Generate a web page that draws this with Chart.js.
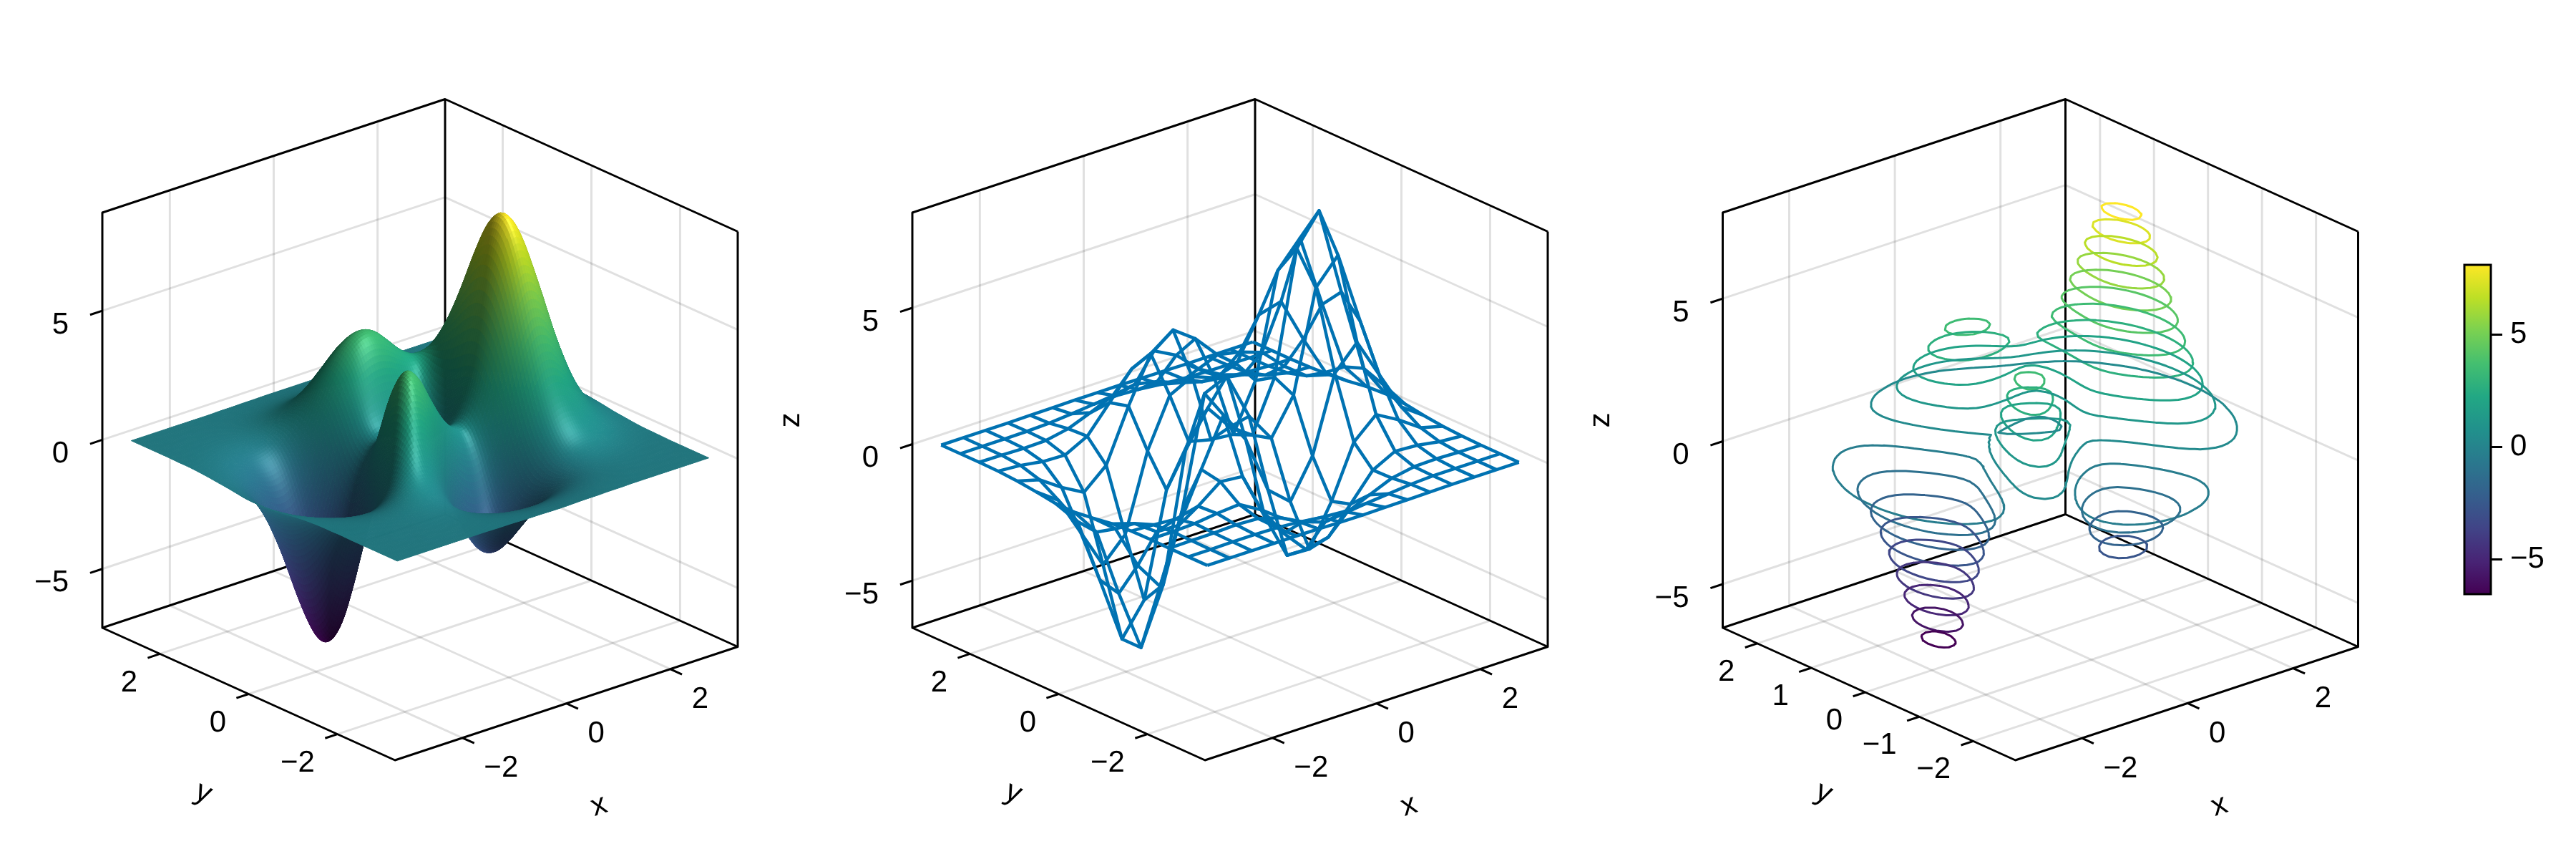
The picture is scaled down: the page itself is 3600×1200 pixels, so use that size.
<!DOCTYPE html>
<html>
<head>
<meta charset="utf-8">
<style>
  html, body { margin: 0; background: #fff; }
  #main { position: absolute; left: 0; top: 0; }
  #cbar { position: absolute; left: 3380px; top: 340px; }
</style>
<script src="https://cdn.jsdelivr.net/npm/chart.js@4/dist/chart.umd.min.js"></script>
</head>
<body>
<canvas id="main" width="3600" height="1200"></canvas>
<canvas id="cbar" width="220" height="520"></canvas>
<script>
// grid coordinates shared by x and y
const gridCoords = [-3, -2.786, -2.571, -2.357, -2.143, -1.929, -1.714, -1.5, -1.286, -1.071, -0.857, -0.643, -0.429, -0.214, 0,
  0.214, 0.429, 0.643, 0.857, 1.071, 1.286, 1.5, 1.714, 1.929, 2.143, 2.357, 2.571, 2.786, 3];

// z values, rows follow y, columns follow x
const zGrid = [
  [0,0,0,0,0,0,0,0,0,-.01,-.01,-.02,-.03,-.03,-.04,-.04,-.03,-.02,-.02,-.01,-.01,0,0,0,0,0,0,0,0],
  [0,0,0,0,0,0,0,0,-.01,-.02,-.03,-.05,-.07,-.09,-.10,-.10,-.08,-.07,-.05,-.03,-.02,-.01,0,0,0,0,0,0,0],
  [0,0,0,0,.01,.01,.01,0,-.01,-.03,-.07,-.12,-.17,-.21,-.23,-.23,-.20,-.16,-.12,-.07,-.04,-.02,0,0,0,0,0,0,0],
  [0,0,0,.01,.01,.02,.02,.01,-.01,-.06,-.14,-.25,-.36,-.45,-.49,-.49,-.43,-.35,-.25,-.15,-.08,-.03,0,.01,.01,.01,.01,0,0],
  [0,0,.01,.02,.02,.04,.05,.04,.01,-.08,-.23,-.43,-.65,-.83,-.93,-.93,-.83,-.66,-.47,-.28,-.13,-.03,.02,.04,.04,.02,.01,.01,0],
  [0,.01,.01,.02,.04,.06,.09,.10,.07,-.05,-.30,-.65,-1.04,-1.37,-1.56,-1.57,-1.41,-1.12,-.79,-.45,-.18,.01,.10,.11,.09,.06,.03,.02,.01],
  [.01,.01,.02,.03,.05,.09,.15,.21,.21,.08,-.26,-.78,-1.39,-1.93,-2.25,-2.29,-2.07,-1.66,-1.13,-.60,-.15,.14,.27,.28,.22,.14,.08,.04,.02],
  [0,0,0,0,.02,.07,.18,.33,.44,.38,.02,-.65,-1.50,-2.28,-2.77,-2.89,-2.64,-2.11,-1.38,-.61,.05,.48,.64,.60,.45,.28,.15,.08,.03],
  [0,-.02,-.04,-.08,-.10,-.07,.10,.39,.73,.89,.65,-.07,-1.09,-2.09,-2.78,-3.02,-2.82,-2.23,-1.34,-.33,.56,1.13,1.30,1.15,.84,.52,.28,.14,.06],
  [-.02,-.06,-.14,-.26,-.38,-.42,-.22,.27,.95,1.51,1.59,1.02,-.05,-1.19,-2.05,-2.46,-2.39,-1.84,-.87,.35,1.48,2.17,2.30,1.97,1.42,.88,.47,.23,.10],
  [-.05,-.14,-.31,-.57,-.88,-1.07,-.91,-.24,.86,1.99,2.59,2.35,1.42,.26,-.70,-1.27,-1.40,-.99,.01,1.42,2.77,3.58,3.63,3.05,2.17,1.34,.72,.34,.14],
  [-.10,-.26,-.54,-1.01,-1.59,-2.05,-2.03,-1.25,.25,1.98,3.20,3.44,2.79,1.74,.77,.08,-.22,.05,1.06,2.66,4.25,5.18,5.12,4.26,3.02,1.85,1.00,.48,.20],
  [-.16,-.39,-.82,-1.53,-2.43,-3.25,-3.47,-2.71,-.94,1.28,3.06,3.76,3.43,2.57,1.69,1.00,.61,.83,1.92,3.74,5.59,6.65,6.51,5.39,3.81,2.34,1.25,.60,.25],
  [-.21,-.51,-1.08,-2.01,-3.23,-4.40,-4.94,-4.34,-2.51,-.03,2.08,3.12,3.05,2.41,1.69,1.10,.78,1.07,2.32,4.38,6.48,7.67,7.49,6.19,4.37,2.68,1.44,.69,.29],
  [-.25,-.60,-1.25,-2.33,-3.77,-5.22,-6.03,-5.68,-3.99,-1.53,.66,1.83,1.94,1.50,.98,.57,.41,.85,2.26,4.48,6.72,8.00,7.83,6.48,4.58,2.81,1.51,.72,.30],
  [-.25,-.62,-1.29,-2.41,-3.90,-5.45,-6.44,-6.31,-4.87,-2.64,-.58,.60,.84,.58,.26,.04,.02,.55,1.99,4.18,6.36,7.61,7.46,6.18,4.37,2.68,1.44,.69,.29],
  [-.24,-.57,-1.18,-2.21,-3.59,-5.05,-6.03,-6.04,-4.87,-2.95,-1.10,.05,.40,.34,.20,.09,.12,.59,1.83,3.71,5.59,6.65,6.51,5.39,3.81,2.34,1.25,.60,.25],
  [-.19,-.47,-.97,-1.82,-2.95,-4.16,-4.98,-5.00,-4.05,-2.43,-.80,.33,.84,.98,.98,.91,.85,1.08,1.90,3.25,4.62,5.39,5.23,4.31,3.04,1.86,1.00,.48,.20],
  [-.14,-.34,-.72,-1.34,-2.17,-3.04,-3.62,-3.59,-2.78,-1.43,.01,1.12,1.78,2.10,2.20,2.10,1.88,1.80,2.12,2.84,3.65,4.07,3.87,3.16,2.22,1.36,.73,.35,.14],
  [-.10,-.23,-.47,-.88,-1.42,-1.98,-2.31,-2.20,-1.52,-.40,.84,1.90,2.64,3.07,3.22,3.07,2.71,2.36,2.25,2.44,2.75,2.88,2.66,2.13,1.49,.90,.48,.23,.10],
  [-.06,-.13,-.28,-.52,-.83,-1.13,-1.28,-1.12,-.56,.32,1.34,2.27,2.99,3.44,3.59,3.43,3.00,2.51,2.14,1.99,1.97,1.91,1.69,1.33,.91,.55,.29,.14,.06],
  [-.03,-.07,-.15,-.27,-.43,-.57,-.61,-.44,-.02,.63,1.40,2.14,2.74,3.14,3.27,3.11,2.72,2.23,1.79,1.50,1.33,1.19,1.00,.76,.52,.31,.16,.08,.03],
  [-.01,-.03,-.07,-.13,-.20,-.25,-.23,-.10,.19,.63,1.15,1.67,2.12,2.41,2.51,2.39,2.08,1.68,1.31,1.03,.83,.69,.55,.40,.27,.16,.08,.04,.02],
  [-.01,-.01,-.03,-.05,-.08,-.09,-.07,.03,.21,.48,.80,1.13,1.42,1.61,1.67,1.59,1.38,1.11,.85,.63,.48,.37,.28,.20,.13,.08,.04,.02,.01],
  [0,-.01,-.01,-.02,-.03,-.03,-.01,.05,.15,.30,.47,.66,.82,.93,.97,.92,.80,.64,.48,.35,.25,.18,.13,.09,.06,.03,.02,.01,0],
  [0,0,0,-.01,-.01,-.01,.01,.04,.09,.16,.25,.34,.42,.48,.50,.47,.41,.33,.24,.17,.12,.08,.06,.04,.02,.01,.01,0,0],
  [0,0,0,0,0,0,.01,.02,.04,.07,.11,.15,.19,.22,.23,.21,.19,.15,.11,.08,.05,.03,.02,.01,.01,0,0,0,0],
  [0,0,0,0,0,0,0,.01,.02,.03,.05,.06,.08,.09,.09,.09,.08,.06,.04,.03,.02,.01,.01,0,0,0,0,0,0],
  [0,0,0,0,0,0,0,0,.01,.01,.02,.02,.03,.03,.03,.03,.03,.02,.02,.01,.01,0,0,0,0,0,0,0,0]
];

const contourLevels = [-5.87, -5.17, -4.48, -3.78, -3.09, -2.39, -1.70, -1.00, -0.30, 0.39, 1.09, 1.78, 2.48, 3.17, 3.87, 4.57, 5.26, 5.96, 6.65, 7.35];
const colorRange = [-6.55, 8.1];

const xTicks = [-2, 0, 2];
const yTicksWide = [-2, 0, 2];
const yTicksNarrow = [-2, -1, 0, 1, 2];
const zTicks = [-5, 0, 5];
const colorbarTicks = [-5, 0, 5];

const viridis = ['#440154', '#482475', '#414487', '#355f8d', '#2a788e', '#21918c', '#22a884', '#44bf70', '#7ad151', '#bddf26', '#fde725'];

const panels = [
  { left: 143, xLim: [-3.3, 3.3], yLim: [-3.3, 3.3], zLim: [-7.28, 8.80], yTicks: yTicksWide, zLabel: false },
  { left: 1275, xLim: [-3.3, 3.3], yLim: [-3.3, 3.3], zLim: [-6.73, 8.49], yTicks: yTicksWide, zLabel: true },
  { left: 2407.5, xLim: [-3.26, 3.23], yLim: [-2.78, 2.64], zLim: [-6.53, 8.01], yTicks: yTicksNarrow, zLabel: true }
];

const FONT = '42px "Liberation Sans"';
const INK = '#000';
const GRID = 'rgba(0,0,0,0.12)';
const WIRE = '#0072B2';

// box edges on screen, from the front bottom corner
const AX = { x: 479, y: -158.5 };
const AY = { x: -409, y: -185 };
const AZ = -580;
const FRONT_X = 409;
const FRONT_Y = 1062;

function project(p, x, y, z) {
  const bx = (x - p.xLim[0]) / (p.xLim[1] - p.xLim[0]);
  const by = (y - p.yLim[0]) / (p.yLim[1] - p.yLim[0]);
  const bz = (z - p.zLim[0]) / (p.zLim[1] - p.zLim[0]);
  return {
    x: p.left + FRONT_X + bx * AX.x + by * AY.x,
    y: FRONT_Y + bx * AX.y + by * AY.y + bz * AZ
  };
}

function hexRgb(h) {
  return [parseInt(h.slice(1, 3), 16), parseInt(h.slice(3, 5), 16), parseInt(h.slice(5, 7), 16)];
}
const viridisRgb = viridis.map(hexRgb);
function viridisAt(t) {
  t = Math.min(1, Math.max(0, t)) * (viridisRgb.length - 1);
  const i = Math.min(viridisRgb.length - 2, Math.floor(t));
  const f = t - i;
  return viridisRgb[i].map((c, k) => c + (viridisRgb[i + 1][k] - c) * f);
}

// catmull-rom refine of the table for drawing, same idea as tension on a line
function cr(a, b, c, d, t) {
  return 0.5 * (2 * b + (c - a) * t + (2 * a - 5 * b + 4 * c - d) * t * t + (3 * b - a - 3 * c + d) * t * t * t);
}
function refine1(arr, sub) {
  const out = [];
  const n = arr.length;
  for (let i = 0; i < n - 1; i++) {
    const a = arr[Math.max(0, i - 1)], b = arr[i], c = arr[i + 1], d = arr[Math.min(n - 1, i + 2)];
    for (let s = 0; s < sub; s++) out.push(cr(a, b, c, d, s / sub));
  }
  out.push(arr[n - 1]);
  return out;
}
function refineTable(table, sub) {
  const rows = table.map(r => refine1(r, sub));
  const cols = rows[0].map((_, j) => refine1(rows.map(r => r[j]), sub));
  return cols[0].map((_, i) => cols.map(c => c[i]));
}
function refineCoords(sub) {
  return refine1(gridCoords, sub);
}

function line(points, color, width, order, cap) {
  return {
    data: points,
    showLine: true,
    pointRadius: 0,
    borderColor: color,
    borderWidth: width,
    borderCapStyle: cap || 'butt',
    borderJoinStyle: 'round',
    tension: 0,
    spanGaps: false,
    order: order,
    clip: false
  };
}

function axisDatasets(p) {
  const out = [];
  const [x0, x1] = p.xLim, [y0, y1] = p.yLim, [z0, z1] = p.zLim;
  const P = (x, y, z) => project(p, x, y, z);
  xTicks.forEach(t => {
    out.push(line([P(t, y0, z0), P(t, y1, z0), P(t, y1, z1)], GRID, 3, 3));
  });
  p.yTicks.forEach(t => {
    out.push(line([P(x0, t, z0), P(x1, t, z0), P(x1, t, z1)], GRID, 3, 3));
  });
  zTicks.forEach(t => {
    out.push(line([P(x0, y1, t), P(x1, y1, t), P(x1, y0, t)], GRID, 3, 3));
  });
  out.push(line([P(x0, y1, z1), P(x0, y1, z0), P(x0, y0, z0), P(x1, y0, z0), P(x1, y0, z1)], INK, 3, 2));
  out.push(line([P(x0, y1, z1), P(x1, y1, z1), P(x1, y0, z1)], INK, 3, 2));
  out.push(line([P(x0, y1, z0), P(x1, y1, z0), P(x1, y0, z0)], INK, 3, 2));
  out.push(line([P(x1, y1, z0), P(x1, y1, z1)], INK, 3, 2));
  // tick marks
  const lenX = Math.hypot(AX.x, AX.y), lenY = Math.hypot(AY.x, AY.y);
  const outX = { x: -AX.x / lenX * 18, y: -AX.y / lenX * 18 };
  const outY = { x: -AY.x / lenY * 18, y: -AY.y / lenY * 18 };
  xTicks.forEach(t => {
    const b = P(t, y0, z0);
    out.push(line([b, { x: b.x + outY.x, y: b.y + outY.y }], INK, 3, 2));
  });
  p.yTicks.forEach(t => {
    const b = P(x0, t, z0);
    out.push(line([b, { x: b.x + outX.x, y: b.y + outX.y }], INK, 3, 2));
  });
  zTicks.forEach(t => {
    const b = P(x0, y1, t);
    out.push(line([b, { x: b.x + outX.x, y: b.y + outX.y }], INK, 3, 2));
  });
  return out;
}

function wireDatasets(p) {
  const out = [];
  for (let i = 0; i < zGrid.length; i += 2) {
    const row = [], col = [];
    for (let j = 0; j < zGrid.length; j += 2) {
      row.push(project(p, gridCoords[j], gridCoords[i], zGrid[i][j]));
      col.push(project(p, gridCoords[i], gridCoords[j], zGrid[j][i]));
    }
    out.push(line(row, WIRE, 4.5, 1));
    out.push(line(col, WIRE, 4.5, 1));
  }
  return out;
}

function contourDatasets(p) {
  const sub = 2;
  const F = refineTable(zGrid, sub);
  const C = refineCoords(sub);
  const n = C.length;
  return contourLevels.map(lev => {
    const pts = [];
    const cross = (x1, y1, z1, x2, y2, z2) => {
      const t = (lev - z1) / (z2 - z1);
      return project(p, x1 + (x2 - x1) * t, y1 + (y2 - y1) * t, lev);
    };
    for (let i = 0; i < n - 1; i++) {
      for (let j = 0; j < n - 1; j++) {
        const a = F[i][j], b = F[i][j + 1], c = F[i + 1][j + 1], d = F[i + 1][j];
        const hits = [];
        if ((a < lev) !== (b < lev)) hits.push(cross(C[j], C[i], a, C[j + 1], C[i], b));
        if ((b < lev) !== (c < lev)) hits.push(cross(C[j + 1], C[i], b, C[j + 1], C[i + 1], c));
        if ((c < lev) !== (d < lev)) hits.push(cross(C[j + 1], C[i + 1], c, C[j], C[i + 1], d));
        if ((d < lev) !== (a < lev)) hits.push(cross(C[j], C[i + 1], d, C[j], C[i], a));
        for (let h = 0; h + 1 < hits.length; h += 2) {
          pts.push(hits[h], hits[h + 1], { x: NaN, y: NaN });
        }
      }
    }
    const span = contourLevels[contourLevels.length - 1] - contourLevels[0];
    const rgb = viridisAt((lev - contourLevels[0]) / span);
    return line(pts, `rgb(${rgb.map(Math.round).join(',')})`, 3, 1, 'round');
  });
}

// camera: azimuth 1.275 pi, elevation pi/8, light comes from up right behind the viewer
const VIEW = [-0.5996, -0.7022, 0.3827];
const LIGHT = [0.236, -0.612, 0.754];
const HALF = [-0.205, -0.74, 0.64];
const AMBIENT = 0.42, DIFFUSE = 0.62, SPECULAR = 0.16, SHININESS = 32;

// slopes of the table, refined like the table so the shading has no facets
function slopeTables(sub) {
  const n = zGrid.length;
  const dx = zGrid.map((r, i) => r.map((_, j) => {
    const a = Math.max(0, j - 1), b = Math.min(n - 1, j + 1);
    return (zGrid[i][b] - zGrid[i][a]) / (gridCoords[b] - gridCoords[a]);
  }));
  const dy = zGrid.map((r, i) => r.map((_, j) => {
    const a = Math.max(0, i - 1), b = Math.min(n - 1, i + 1);
    return (zGrid[b][j] - zGrid[a][j]) / (gridCoords[b] - gridCoords[a]);
  }));
  return [refineTable(dx, sub), refineTable(dy, sub)];
}

const surfacePlugin = {
  id: 'surface',
  afterDatasetsDraw(chart) {
    const p = panels[0];
    const sub = 5;
    const F = refineTable(zGrid, sub);
    const C = refineCoords(sub);
    const [DX, DY] = slopeTables(sub);
    const n = C.length;
    const h = C[1] - C[0];
    const kx = (p.xLim[1] - p.xLim[0]) / (p.zLim[1] - p.zLim[0]);
    const ky = (p.yLim[1] - p.yLim[0]) / (p.zLim[1] - p.zLim[0]);
    const quads = [];
    for (let i = 0; i < n - 1; i++) {
      for (let j = 0; j < n - 1; j++) {
        const zc = (F[i][j] + F[i][j + 1] + F[i + 1][j] + F[i + 1][j + 1]) / 4;
        const bx = (C[j] + h / 2 - p.xLim[0]) / (p.xLim[1] - p.xLim[0]);
        const by = (C[i] + h / 2 - p.yLim[0]) / (p.yLim[1] - p.yLim[0]);
        const bz = (zc - p.zLim[0]) / (p.zLim[1] - p.zLim[0]);
        quads.push({ i, j, zc, d: bx * VIEW[0] + by * VIEW[1] + bz * VIEW[2] });
      }
    }
    quads.sort((a, b) => a.d - b.d);
    const sx = chart.scales.x, sy = chart.scales.y;
    const ctx = chart.ctx;
    ctx.save();
    ctx.lineWidth = 1;
    ctx.lineJoin = 'round';
    quads.forEach(q => {
      const { i, j, zc } = q;
      const zx = (DX[i][j] + DX[i][j + 1] + DX[i + 1][j] + DX[i + 1][j + 1]) / 4 * kx;
      const zy = (DY[i][j] + DY[i][j + 1] + DY[i + 1][j] + DY[i + 1][j + 1]) / 4 * ky;
      const len = Math.hypot(zx, zy, 1);
      const nrm = [-zx / len, -zy / len, 1 / len];
      const dl = Math.max(0, nrm[0] * LIGHT[0] + nrm[1] * LIGHT[1] + nrm[2] * LIGHT[2]);
      const ds = Math.max(0, nrm[0] * HALF[0] + nrm[1] * HALF[1] + nrm[2] * HALF[2]);
      const base = viridisAt((zc - colorRange[0]) / (colorRange[1] - colorRange[0]));
      const shade = AMBIENT + DIFFUSE * dl;
      const spec = 255 * SPECULAR * Math.pow(ds, SHININESS);
      const col = `rgb(${base.map(c => Math.round(Math.min(255, c * shade + spec))).join(',')})`;
      const corners = [[i, j], [i, j + 1], [i + 1, j + 1], [i + 1, j]];
      ctx.beginPath();
      corners.forEach(([a, b], k) => {
        const s = project(p, C[b], C[a], F[a][b]);
        const px = sx.getPixelForValue(s.x), py = sy.getPixelForValue(s.y);
        if (k === 0) ctx.moveTo(px, py); else ctx.lineTo(px, py);
      });
      ctx.closePath();
      ctx.fillStyle = col;
      ctx.strokeStyle = col;
      ctx.fill();
      ctx.stroke();
    });
    ctx.restore();
  }
};

function fmt(v) {
  return v < 0 ? '\u2212' + Math.abs(v) : String(v);
}

const smoothText = {
  id: 'smoothText',
  beforeDraw(chart) {
    chart.ctx.textRendering = 'geometricPrecision';
  }
};

const labelPlugin = {
  id: 'labels',
  afterDraw(chart) {
    const ctx = chart.ctx;
    const sx = chart.scales.x, sy = chart.scales.y;
    const put = (txt, x, y, align, rot) => {
      ctx.save();
      ctx.translate(sx.getPixelForValue(x), sy.getPixelForValue(y));
      if (rot) ctx.rotate(rot);
      ctx.textAlign = align;
      ctx.textBaseline = 'middle';
      ctx.fillText(txt, 0, 0);
      ctx.restore();
    };
    ctx.save();
    ctx.font = FONT;
    ctx.fillStyle = INK;
    panels.forEach(p => {
      const [x0] = p.xLim, [y0, y1] = p.yLim, [z0] = p.zLim;
      xTicks.forEach(t => {
        const b = project(p, t, y0, z0);
        put(fmt(t), b.x + 30, b.y + 43, 'left');
      });
      p.yTicks.forEach(t => {
        const b = project(p, x0, t, z0);
        put(fmt(t), b.x - 31.5, b.y + 40.5, 'right');
      });
      zTicks.forEach(t => {
        const b = project(p, x0, y1, t);
        put(fmt(t), b.x - 47, b.y + 20, 'right');
      });
      put('x', p.left + 694, 1126, 'center', Math.atan2(AX.y, AX.x));
      put('y', p.left + 141, 1108, 'center', Math.atan2(-AY.y, -AY.x));
      if (p.zLabel) put('z', p.left - 170, 587, 'center', -Math.PI / 2);
    });
    ctx.restore();
  }
};

const datasets = [];
panels.forEach(p => datasets.push(...axisDatasets(p)));
datasets.push(...wireDatasets(panels[1]));
datasets.push(...contourDatasets(panels[2]));

new Chart(document.getElementById('main'), {
  type: 'scatter',
  data: { datasets },
  options: {
    responsive: false,
    animation: false,
    events: [],
    layout: { padding: 0 },
    scales: {
      x: { type: 'linear', display: false, min: 0, max: 3600 },
      y: { type: 'linear', display: false, min: 0, max: 1200, reverse: true }
    },
    plugins: { legend: { display: false }, tooltip: { enabled: false } }
  },
  plugins: [smoothText, surfacePlugin, labelPlugin]
});

// colorbar
const barPlugin = {
  id: 'bar',
  beforeDatasetsDraw(chart) {
    const { ctx, chartArea: a } = chart;
    const sc = chart.scales.y;
    const top = sc.getPixelForValue(colorRange[1]), bot = sc.getPixelForValue(colorRange[0]);
    const g = ctx.createLinearGradient(0, bot, 0, top);
    viridis.forEach((c, i) => g.addColorStop(i / (viridis.length - 1), c));
    ctx.save();
    ctx.fillStyle = g;
    ctx.fillRect(a.left, top, a.right - a.left, bot - top);
    ctx.strokeStyle = INK;
    ctx.lineWidth = 3;
    ctx.strokeRect(a.left, top, a.right - a.left, bot - top);
    ctx.restore();
  }
};

new Chart(document.getElementById('cbar'), {
  type: 'scatter',
  data: { datasets: [{ data: [] }] },
  options: {
    responsive: false,
    animation: false,
    events: [],
    layout: { padding: { left: 64, top: 30, bottom: 30, right: 0 } },
    scales: {
      x: { type: 'linear', display: false, min: 0, max: 1 },
      y: {
        type: 'linear',
        position: 'right',
        min: colorRange[0],
        max: colorRange[1],
        afterBuildTicks: s => { s.ticks = colorbarTicks.map(v => ({ value: v })); },
        afterFit: s => { s.width = 119; s.paddingTop = 0; s.paddingBottom = 0; },
        border: { display: false },
        grid: { drawOnChartArea: false, tickLength: 16, tickWidth: 3, tickColor: INK, color: INK },
        ticks: {
          color: INK,
          padding: 11,
          font: { family: 'Liberation Sans', size: 42 },
          callback: v => fmt(v)
        }
      }
    },
    plugins: { legend: { display: false }, tooltip: { enabled: false } }
  },
  plugins: [smoothText, barPlugin]
});
</script>
</body>
</html>
